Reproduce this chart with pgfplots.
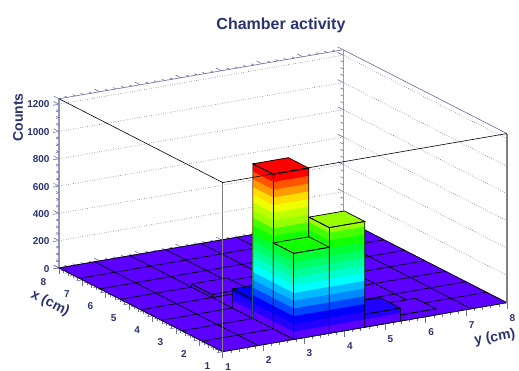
\documentclass[border=0pt]{standalone}
\usepackage{fontspec}
\setmainfont{Liberation Sans}
\usepackage{pgfplots}
\pgfplotsset{compat=1.18}
\definecolor{navy}{HTML}{2B3272}
\definecolor{band1}{HTML}{5C00FF}
\definecolor{band2}{HTML}{2200FF}
\definecolor{band3}{HTML}{0000FF}
\definecolor{band4}{HTML}{0044FF}
\definecolor{band5}{HTML}{0088FF}
\definecolor{band6}{HTML}{00BBFF}
\definecolor{band7}{HTML}{00FFFF}
\definecolor{band8}{HTML}{00FFCC}
\definecolor{band9}{HTML}{00FF99}
\definecolor{band10}{HTML}{00FF66}
\definecolor{band11}{HTML}{00FF33}
\definecolor{band12}{HTML}{11FF00}
\definecolor{band13}{HTML}{44FF00}
\definecolor{band14}{HTML}{99FF00}
\definecolor{band15}{HTML}{BBFF00}
\definecolor{band16}{HTML}{EEFF00}
\definecolor{band17}{HTML}{FFDD00}
\definecolor{band18}{HTML}{FF9900}
\definecolor{band19}{HTML}{FF5500}
\definecolor{band20}{HTML}{FF0000}
\newcommand\bandw{56.7}
% #1 x0, #2 x1, #3 y0, #4 y1, #5 height
\newcommand\legobar[5]{%
  \pgfmathtruncatemacro\ntop{max(1,ceil(#5/\bandw))}%
  \pgfmathtruncatemacro\ntopm{\ntop-1}%
  \pgfplotsforeachungrouped \j in {0,...,\ntopm}{%
    \pgfmathtruncatemacro\k{\ntop-\j}%
    \pgfmathsetmacro\zt{min(#5,\k*\bandw)}%
    \edef\tmp{\noexpand\addplot3[fill=band\k,draw=none,forget plot] coordinates {(#1,#3,0)(#1,#4,0)(#1,#4,\zt)(#1,#3,\zt)} --cycle;
      \noexpand\addplot3[fill=band\k,draw=none,forget plot] coordinates {(#1,#3,0)(#2,#3,0)(#2,#3,\zt)(#1,#3,\zt)} --cycle;}\tmp
  }%
  \edef\tmp{\noexpand\addplot3[fill=band\ntop,draw=black,line width=0.7pt,forget plot] coordinates {(#1,#3,#5)(#1,#4,#5)(#2,#4,#5)(#2,#3,#5)} --cycle;}\tmp
  \addplot3[black,line width=0.7pt,forget plot] coordinates {(#2,#3,0)(#2,#3,#5)(#1,#3,#5)(#1,#4,#5)(#1,#4,0)};
  \addplot3[black,line width=0.7pt,forget plot] coordinates {(#1,#3,0)(#1,#3,#5)};
  \addplot3[black,line width=0.7pt,forget plot] coordinates {(#2,#3,0)(#1,#3,0)(#1,#4,0)};
}
\begin{document}
\begin{tikzpicture}
\path[use as bounding box] (0,0) rectangle (519pt,371pt);
\begin{axis}[
  at={(59pt,19.3pt)},anchor=south west,
  x dir=reverse,
  x={(23.39pt,-11.97pt)},y={(40.6pt,7pt)},z={(0pt,0.1364pt)},
  xmin=1,xmax=8,ymin=1,ymax=8,zmin=0,zmax=1240,
  clip=false,
  xtick={1,...,8},ytick={1,...,8},ztick={0,200,...,1200},
  minor x tick num=4,minor y tick num=4,minor z tick num=3,
  xtick pos=left,ytick pos=left,ztick pos=left,
  tick align=outside,
  zmajorgrids,
  major grid style={dotted,color=navy!85,line width=0.7pt},
  axis line style={color=navy!65,line width=0.7pt},
  z axis line style={color=navy!50,line width=1.2pt},
  tick style={color=navy!70,line width=0.6pt},
  major tick length=6pt,minor tick length=3pt,
  /pgf/number format/assume math mode=true,
  /pgf/number format/1000 sep={},
  tick label style={font=\fontsize{10}{12}\selectfont\bfseries,color=navy},
  xticklabel style={xshift=-3.5pt,yshift=-6pt},
  yticklabel style={xshift=-4.5pt,yshift=-5.5pt},
  zticklabel style={yshift=-1.5pt},
  title={Chamber activity},
  title style={font=\fontsize{16}{18}\selectfont\bfseries,color=navy,at={(axis description cs:0.4955,1.06)},anchor=center},
  xlabel={x (cm)},ylabel={y (cm)},zlabel={Counts},
  xlabel style={font=\fontsize{14}{15}\selectfont\bfseries,color=navy,at={(axis description cs:-0.02,0.16)},anchor=center,rotate=-27,sloped like x axis=false},
  ylabel style={font=\fontsize{14}{15}\selectfont\bfseries,color=navy,at={(axis description cs:0.973,0.046)},anchor=center,rotate=10},
  zlabel style={font=\fontsize{14}{15}\selectfont\bfseries,color=navy,at={(axis description cs:-0.0915,0.776)},anchor=center},
]
% floor
\addplot3[fill=band1,draw=black,line width=0.7pt,forget plot] coordinates {(1,1,0)(1,8,0)(8,8,0)(8,1,0)} --cycle;
\pgfplotsinvokeforeach{1.875,2.75,3.625,4.5,5.375,6.25,7.125}{
  \addplot3[black,line width=0.7pt,forget plot] coordinates {(#1,1,0)(#1,8,0)};
  \addplot3[black,line width=0.7pt,forget plot] coordinates {(1,#1,0)(8,#1,0)};
}
% bars, far to near
\legobar{4.5}{5.375}{2.75}{3.625}{22}
\legobar{2.75}{3.625}{2.75}{3.625}{140}
\legobar{1.875}{2.75}{2.75}{3.625}{1134}
\legobar{1}{1.875}{5.375}{6.25}{45}
\legobar{1}{1.875}{4.5}{5.375}{95}
\legobar{1}{1.875}{3.625}{4.5}{775}
\legobar{1}{1.875}{2.75}{3.625}{631}
% front of the box
\addplot3[black!50,line width=1.2pt,forget plot] coordinates {(1,1,0)(1,1,1240)};
\addplot3[black!50,line width=1.2pt,forget plot] coordinates {(1,8,0)(1,8,1240)};
\addplot3[black,line width=0.6pt,forget plot] coordinates {(8,1,1240)(1,1,1240)(1,8,1240)};
\end{axis}
\end{tikzpicture}
\end{document}
